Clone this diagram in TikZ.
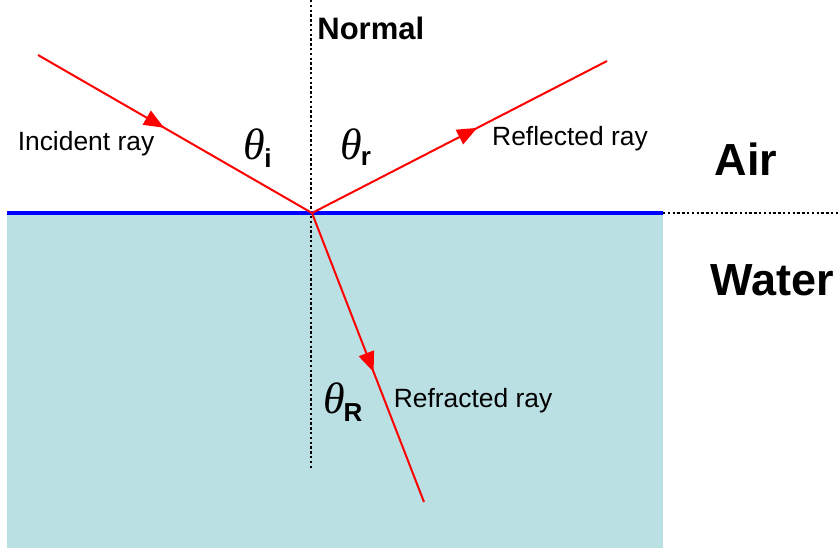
\documentclass[tikz,border=0pt]{standalone}
\usepackage{fontspec}
\setmainfont{Liberation Sans}
\newfontfamily\thetafont{Liberation Serif}
\usetikzlibrary{arrows.meta,decorations.markings}
\definecolor{waterc}{HTML}{BBE0E3}
\begin{document}
\begin{tikzpicture}[x=0.5pt,y=-0.5pt,
  ray/.style={draw=red, line width=1pt},
  midarrow/.style={postaction={decorate},decoration={markings, mark=at position #1 with {\arrow[red]{Triangle[length=10pt,width=8pt]}}}},
  lbl/.style={font=\fontsize{13.2}{15}\selectfont, inner sep=0pt},
  big/.style={font=\fontsize{22.5}{26}\selectfont\bfseries, inner sep=0pt},
  nrm/.style={font=\fontsize{15.5}{18}\selectfont\bfseries, inner sep=0pt},
  th/.style={font=\thetafont\itshape\fontsize{22}{26}\selectfont, inner sep=0pt},
  subl/.style={font=\fontsize{13}{15}\selectfont\bfseries, inner sep=0pt},
  dots/.style={draw=black, line width=1pt, dash pattern=on 1.2pt off 1.2pt}]
\useasboundingbox (0,0) rectangle (840,548);
% water
\fill[waterc] (7,213) rectangle (663,548);
% normal
\coordinate (ntop) at (311,0);
\coordinate (nbot) at (311,468);
\draw[dots] (ntop) -- (nbot);
% surface
\coordinate (sl) at (7,213);
\coordinate (sr) at (663,213);
\coordinate (se) at (840,213);
\draw[dots] (sr) -- (se);
\draw[blue, line width=2pt] (sl) -- (sr);
% rays
\coordinate (O) at (312,213);
\coordinate (A) at (38,55);
\coordinate (B) at (607,61);
\coordinate (C) at (424,502);
\draw[ray, midarrow=0.46] (A) -- (O);
\draw[ray, midarrow=0.56] (O) -- (B);
\draw[ray, midarrow=0.55] (O) -- (C);
% labels
\node[nrm, anchor=west] (normal) at (317,28) {Normal};
\node[lbl] (inc) at (86,144) {Incident ray};
\node[lbl] (refl) at (570,139) {Reflected ray};
\node[lbl] (refr) at (473,401) {Refracted ray};
\node[big] (air) at (746,159) {Air};
\node[big] (water) at (772,280) {Water};
% angles
\node[th] (ti) at (254,144) {θ};
\node[subl] (si) at (268,158) {i};
\node[th] (tr) at (351,144) {θ};
\node[subl] (sr2) at (366,158) {r};
\node[th] (tR) at (334,398) {θ};
\node[subl] (sR) at (353,413) {R};
\end{tikzpicture}
\end{document}
